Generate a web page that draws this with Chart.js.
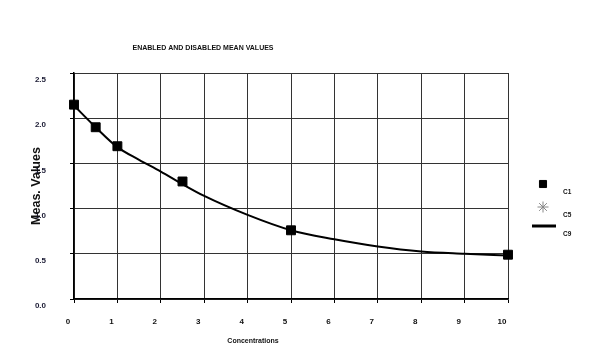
<!DOCTYPE html>
<html>
<head>
<meta charset="utf-8">
<script src="https://cdn.jsdelivr.net/npm/chart.js@4.4.1/dist/chart.umd.min.js"></script>
<style>
  html, body { margin: 0; padding: 0; background: #fff; }
  #wrap { width: 600px; height: 348px; }
</style>
</head>
<body>
<div id="wrap"><canvas id="myChart" width="600" height="348"></canvas></div>
<script>
// measured points (C1)
var concentrations = [0, 0.5, 1, 2.5, 5, 10];
var c1Values = [2.15, 1.9, 1.69, 1.30, 0.76, 0.49];
// C5 has no visible marks in the picture
var c5Values = [];
// fitted curve (C9)
var fitConc = [0, 0.5, 1, 1.5, 2, 2.5, 3, 4, 5, 6, 7, 8, 9, 10];
var c9Values = [2.14, 1.9, 1.68, 1.54, 1.41, 1.27, 1.14, 0.93, 0.76, 0.66, 0.58, 0.525, 0.50, 0.48];

var xTicks = [0, 1, 2, 3, 4, 5, 6, 7, 8, 9, 10];
var yTicks = [0, 0.5, 1.0, 1.5, 2.0, 2.5];

var chartTitle = "ENABLED AND DISABLED MEAN VALUES";
var xTitle = "Concentrations";
var yTitle = "Meas. Values";

function points(xs, ys) {
  var out = [];
  for (var i = 0; i < ys.length; i++) {
    out.push({ x: xs[i], y: ys[i] });
  }
  return out;
}

var labelFont = { family: "Liberation Sans, Arial", size: 8, weight: "bold" };

// titles + legend drawn by hand, the original is laid out oddly
var extras = {
  id: "extras",
  afterDraw: function (chart) {
    var ctx = chart.ctx;
    ctx.save();
    ctx.fillStyle = "#111";
    ctx.textAlign = "center";
    ctx.textBaseline = "middle";

    ctx.font = "bold 7px Liberation Sans, Arial";
    ctx.fillText(chartTitle, 203, 48);
    ctx.fillText(xTitle, 253, 341);

    ctx.save();
    ctx.translate(37, 186);
    ctx.rotate(-Math.PI / 2);
    ctx.font = "bold 12.5px Liberation Sans, Arial";
    ctx.fillText(yTitle, 0, 0);
    ctx.restore();

    // legend
    var ds = chart.data.datasets;
    var ys = [184, 207, 226];
    ctx.font = "bold 6.5px Liberation Sans, Arial";
    ctx.textAlign = "left";
    for (var i = 0; i < ds.length; i++) {
      var y = ys[i];
      if (ds[i].showLine) {
        ctx.strokeStyle = ds[i].borderColor;
        ctx.lineWidth = 3;
        ctx.beginPath();
        ctx.moveTo(532, y);
        ctx.lineTo(556, y);
        ctx.stroke();
      } else {
        ctx.fillStyle = ds[i].pointBackgroundColor;
        ctx.strokeStyle = ds[i].pointBorderColor;
        ctx.lineWidth = 1;
        Chart.helpers.drawPoint(ctx, {
          pointStyle: ds[i].pointStyle,
          radius: ds[i].pointStyle == "star" ? 5.5 : 5,
          borderWidth: 1
        }, 543, y);
      }
      ctx.fillStyle = "#111";
      ctx.fillText(ds[i].label, 563, y + 8);
    }
    ctx.restore();
  },
  beforeDraw: function (chart) {
    var ctx = chart.ctx;
    ctx.save();
    ctx.fillStyle = "#fff";
    ctx.fillRect(0, 0, chart.width, chart.height);
    ctx.restore();
  }
};

var config = {
  type: "scatter",
  data: {
    datasets: [
      {
        label: "C1",
        data: points(concentrations, c1Values),
        pointStyle: "rect",
        pointRadius: 6.3,
        pointBackgroundColor: "#000",
        pointBorderColor: "#000",
        borderColor: "#000",
        backgroundColor: "#000",
        clip: false,
        order: 0
      },
      {
        label: "C5",
        data: points(concentrations, c5Values),
        pointStyle: "star",
        pointRadius: 5,
        pointBackgroundColor: "#888",
        pointBorderColor: "#888",
        borderColor: "#888",
        backgroundColor: "#888",
        clip: false,
        order: 1
      },
      {
        label: "C9",
        data: points(fitConc, c9Values),
        showLine: true,
        cubicInterpolationMode: "monotone",
        pointRadius: 0,
        borderColor: "#000",
        backgroundColor: "#000",
        borderWidth: 2,
        clip: false,
        order: 2
      }
    ]
  },
  options: {
    responsive: false,
    animation: false,
    devicePixelRatio: 1,
    layout: { padding: { top: 73, right: 92, left: 0, bottom: 0 } },
    plugins: {
      legend: { display: false },
      title: { display: false },
      tooltip: { enabled: false }
    },
    scales: {
      x: {
        type: "linear",
        min: 0,
        max: 10,
        afterBuildTicks: function (s) {
          s.ticks = xTicks.map(function (v) { return { value: v }; });
        },
        afterFit: function (s) { s.height = 49; },
        grid: { color: "#333", lineWidth: 1, tickLength: 4, tickColor: "#000" },
        border: { display: true, color: "#000", width: 1.5 },
        ticks: {
          font: labelFont,
          color: "#111",
          padding: 14,
          labelOffset: -6,
          maxRotation: 0,
          autoSkip: false,
          callback: function (v) { return String(v); }
        }
      },
      y: {
        min: 0,
        max: 2.5,
        afterBuildTicks: function (s) {
          s.ticks = yTicks.map(function (v) { return { value: v }; });
        },
        afterFit: function (s) { s.width = 74; },
        grid: { color: "#333", lineWidth: 1, tickLength: 4, tickColor: "#000" },
        border: { display: true, color: "#000", width: 1.5 },
        ticks: {
          font: labelFont,
          color: "#1a1a33",
          padding: 24,
          labelOffset: 7,
          autoSkip: false,
          callback: function (v) { return v.toFixed(1); }
        }
      }
    }
  },
  plugins: [extras]
};

var myChart = new Chart(document.getElementById("myChart"), config);
</script>
</body>
</html>
